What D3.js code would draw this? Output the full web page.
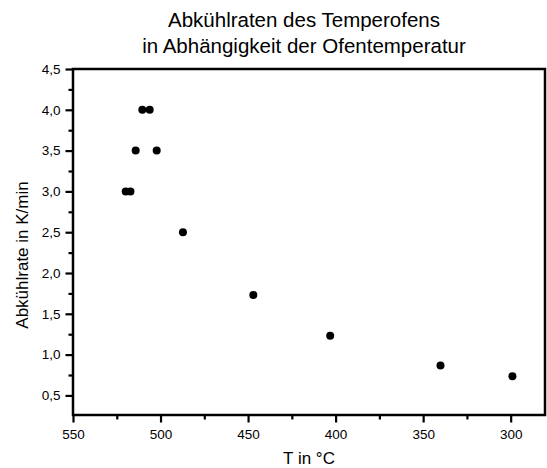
<!DOCTYPE html>
<html>
<head>
<meta charset="utf-8">
<title>Abkühlraten</title>
<script src="https://d3js.org/d3.v7.min.js"></script>
<style>
  body { margin: 0; background: #fff; }
  text { font-family: "Liberation Sans", Arial, sans-serif; fill: #000; }
</style>
</head>
<body>
<svg width="547" height="468"></svg>
<script>
// temperature (°C) and cooling rate (K/min)
var temps = [510.4, 506.2, 514.2, 502.2, 519.9, 517.2, 487.2, 447, 403.1, 340.1, 299];
var rates = [4.0, 4.0, 3.5, 3.5, 3.0, 3.0, 2.5, 1.73, 1.23, 0.866, 0.736];
var xTicks = [550, 500, 450, 400, 350, 300];
var yTicks = [0.5, 1.0, 1.5, 2.0, 2.5, 3.0, 3.5, 4.0, 4.5];
var titleLines = ["Abkühlraten des Temperofens", "in Abhängigkeit der Ofentemperatur"];

var svg = d3.select("svg"),
    margin = {top: 69, right: 2, bottom: 53, left: 73},
    width = +svg.attr("width") - margin.left - margin.right,
    height = +svg.attr("height") - margin.top - margin.bottom,
    g = svg.append("g").attr("transform", `translate(${margin.left},${margin.top})`);

var x = d3.scaleLinear().domain([550, 280.4]).range([0, width]);
var y = d3.scaleLinear().domain([0.26, 4.5]).range([height, 0]);

var comma = d => d.toFixed(1).replace(".", ",");
var font = "Liberation Sans, Arial, sans-serif";

// minor ticks
g.append("g")
    .attr("transform", `translate(0,${height})`)
    .call(d3.axisBottom(x).tickValues(d3.range(525, 280, -50)).tickSize(4.5).tickFormat(""))
    .call(a => a.select(".domain").remove())
    .selectAll("line").attr("stroke-width", 2.2);
g.append("g")
    .call(d3.axisLeft(y).tickValues(d3.range(0.75, 4.5, 0.5)).tickSize(4.5).tickFormat(""))
    .call(a => a.select(".domain").remove())
    .selectAll("line").attr("stroke-width", 2.2);

// major ticks
var xa = g.append("g")
    .attr("transform", `translate(0,${height})`)
    .call(d3.axisBottom(x).tickValues(xTicks).tickSize(7.5).tickPadding(7));
xa.select(".domain").remove();
xa.selectAll("line").attr("stroke-width", 2.2);
xa.selectAll("text").attr("font-size", 13.5).attr("font-family", font);

var ya = g.append("g")
    .call(d3.axisLeft(y).tickValues(yTicks).tickSize(7.5).tickPadding(5).tickFormat(comma));
ya.select(".domain").remove();
ya.selectAll("line").attr("stroke-width", 2.2);
ya.selectAll("text").attr("font-size", 13.5).attr("font-family", font);

// frame
g.append("rect")
    .attr("width", width).attr("height", height)
    .attr("fill", "none").attr("stroke", "#000").attr("stroke-width", 2.5);

// points
g.selectAll("circle")
    .data(temps.map((t, i) => ({t: t, r: rates[i]})))
    .enter().append("circle")
    .attr("cx", d => x(d.t))
    .attr("cy", d => y(d.r))
    .attr("r", 4)
    .attr("fill", "#000");

// titles
svg.append("text")
    .attr("text-anchor", "middle").attr("font-size", 20.5)
    .selectAll("tspan").data(titleLines).enter().append("tspan")
    .attr("x", 304).attr("y", (d, i) => 27 + i * 26)
    .text(d => d);

svg.append("text")
    .attr("x", margin.left + width / 2).attr("y", 464)
    .attr("text-anchor", "middle").attr("font-size", 17)
    .text("T in °C");

svg.append("text")
    .attr("transform", "translate(28,255) rotate(-90)")
    .attr("text-anchor", "middle").attr("font-size", 17)
    .text("Abkühlrate in K/min");
</script>
</body>
</html>
